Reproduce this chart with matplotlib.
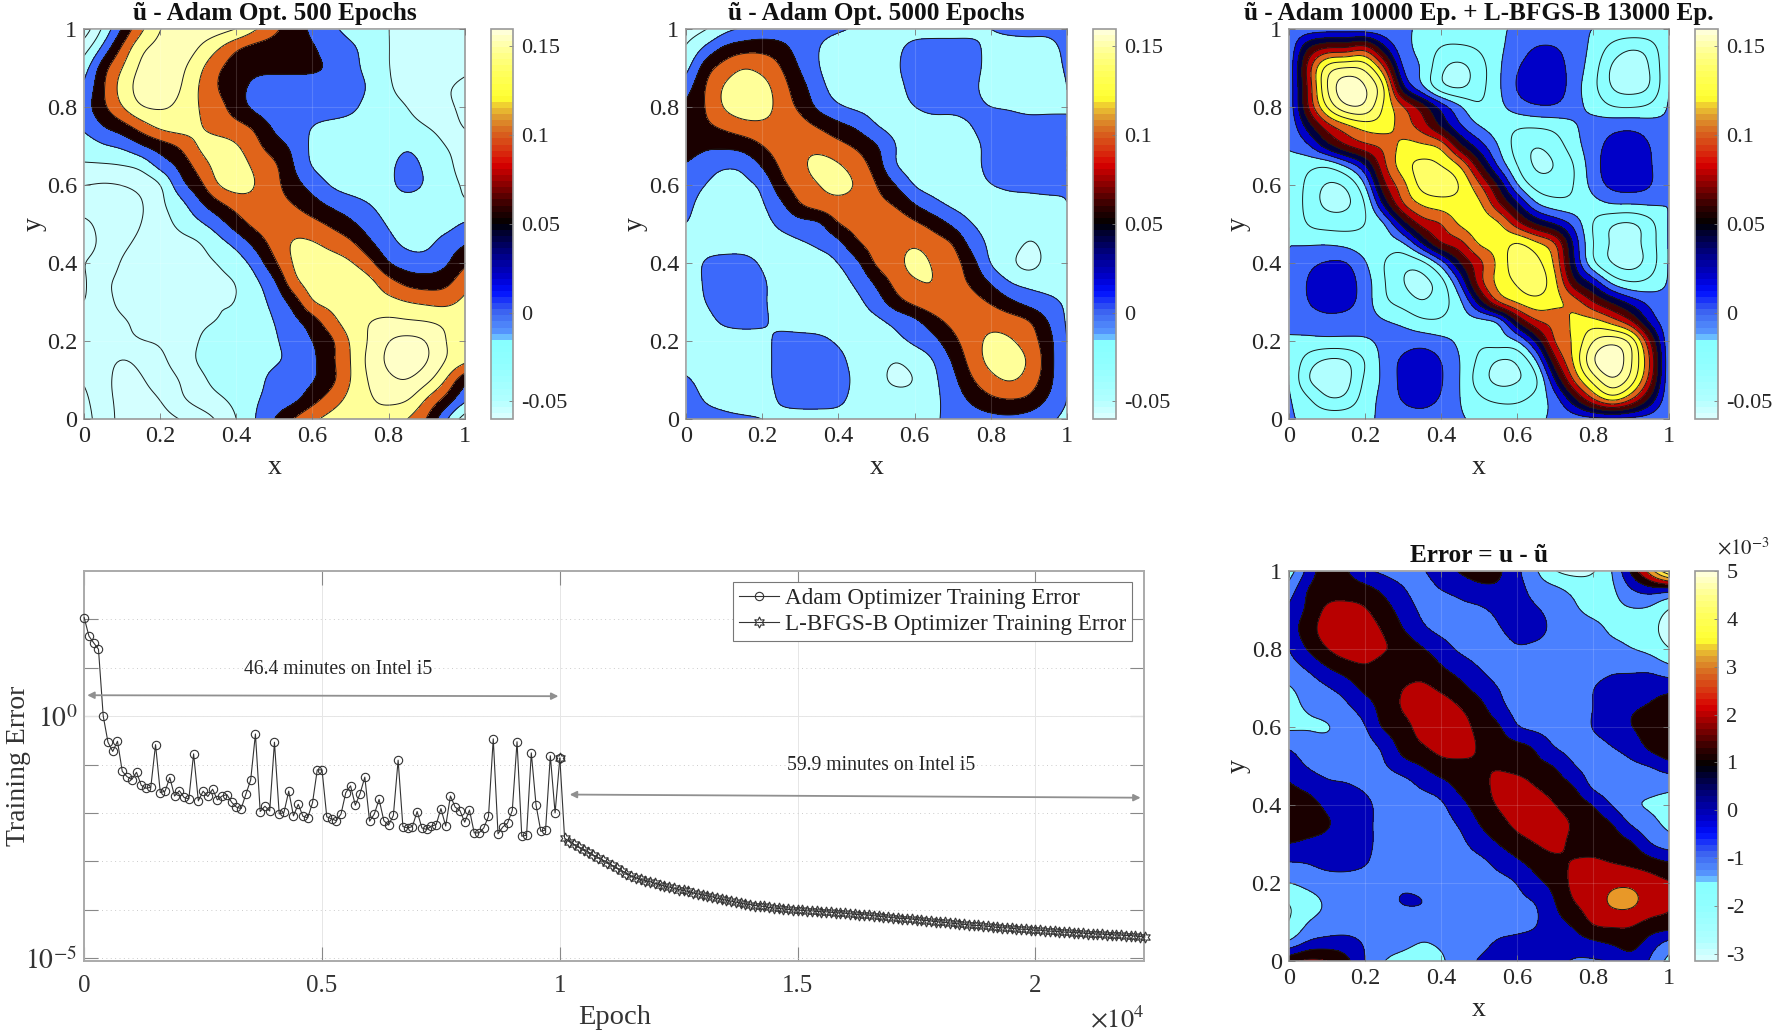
import numpy as np
import matplotlib
matplotlib.use("Agg")
import matplotlib.pyplot as plt
from matplotlib.colors import LinearSegmentedColormap, Normalize
from matplotlib.cm import ScalarMappable

plt.rcParams['font.family'] = ['Liberation Serif', 'DejaVu Serif']
plt.rcParams['mathtext.fontset'] = 'stix'

W, H = 1772, 1035

# fields on a 21x21 grid, top row is y=1, left column x=0
# unit is a tenth of a contour band, so a contour sits on every multiple of 10
u500 = [
    [5,22,41,58,70,74,75,74,70,61,52,45,38,32,27,24,20,18,17,16,15],
    [16,33,52,68,73,76,70,61,51,46,45,44,41,36,32,26,20,18,17,16,15],
    [26,46,60,72,75,73,63,52,45,42,42,42,41,39,33,27,20,18,17,15,12],
    [32,49,64,74,76,71,60,50,43,38,36,36,37,37,34,29,21,17,14,11,8],
    [36,48,60,70,71,68,60,54,45,37,33,33,33,34,32,27,23,20,15,12,8],
    [32,40,46,55,63,65,61,56,53,48,38,33,30,28,27,26,24,23,20,16,9],
    [25,29,32,39,45,51,61,64,61,53,44,38,28,26,25,25,26,29,25,20,16],
    [19,19,20,23,34,42,54,63,64,58,52,40,29,26,25,26,28,33,28,23,16],
    [10,9,10,13,19,36,46,60,64,60,53,44,36,29,26,26,28,33,29,24,19],
    [5,5,6,9,18,26,37,47,54,57,54,50,44,38,34,30,27,26,25,23,21],
    [-2,3,6,10,16,22,28,35,45,53,56,56,53,48,42,35,29,26,25,26,31],
    [-3,2,8,12,15,17,19,26,33,43,54,61,61,57,52,42,33,28,28,34,39],
    [0,4,11,14,16,17,18,20,25,34,48,61,64,64,61,53,40,35,34,38,48],
    [-1,8,12,15,17,18,19,19,20,28,38,57,64,66,66,63,54,47,45,47,56],
    [0,7,12,15,17,19,19,20,20,26,33,44,60,63,64,64,63,60,58,57,62],
    [5,7,9,12,15,17,19,20,22,26,30,37,45,57,65,70,72,71,70,68,65],
    [5,7,8,10,11,15,20,23,26,28,29,34,40,48,61,71,80,83,80,70,64],
    [6,4,-1,3,8,14,21,24,26,28,29,32,38,48,60,73,82,85,81,70,63],
    [9,3,-3,-1,5,10,17,23,26,28,32,35,39,47,60,71,78,80,73,60,43],
    [12,3,-2,-3,0,8,14,18,23,29,33,37,46,55,63,69,72,71,59,47,33],
    [14,4,-2,-4,-3,0,5,11,20,30,40,50,58,63,66,68,66,60,50,32,16],
]
u5000 = [
    [16,19,27,31,33,33,32,32,31,29,27,26,26,26,26,27,30,32,32,32,33],
    [21,32,42,46,47,44,35,30,26,25,25,28,33,34,34,33,27,26,27,27,32],
    [27,45,54,60,57,50,39,30,25,24,25,29,33,34,34,33,27,25,25,26,31],
    [36,50,61,65,64,54,44,33,26,24,25,28,32,34,34,32,26,24,24,25,30],
    [42,50,61,66,66,55,48,37,31,28,27,28,30,32,32,32,30,29,27,28,30],
    [44,48,52,56,57,56,54,49,43,38,30,27,27,27,27,30,33,34,34,33,30],
    [45,42,42,44,50,55,58,57,53,48,41,30,26,25,26,28,32,34,34,33,30],
    [39,34,31,32,41,52,58,63,61,55,45,30,26,25,26,28,32,34,34,33,30],
    [34,30,27,28,32,47,55,60,63,59,50,40,29,26,25,27,30,32,32,32,30],
    [32,27,25,25,29,38,50,55,57,56,53,49,40,33,28,26,25,26,27,28,30],
    [30,26,25,24,27,32,36,38,50,54,56,56,52,46,38,30,27,25,24,25,28],
    [25,26,26,26,26,27,29,32,37,49,54,57,59,55,50,36,28,25,19,23,27],
    [25,31,33,33,29,26,25,26,30,38,52,57,63,59,54,44,29,22,16,23,27],
    [25,31,34,34,31,27,25,26,27,32,42,53,59,60,55,48,39,30,27,27,28],
    [26,30,33,34,31,27,26,26,26,28,35,46,53,57,58,54,49,42,36,32,29],
    [26,28,31,32,31,28,26,26,26,27,28,32,37,46,53,56,57,55,51,40,29],
    [26,27,27,27,28,32,33,32,29,27,27,28,32,37,47,56,62,61,55,44,30],
    [27,26,26,26,28,32,34,34,32,27,24,20,24,30,41,54,63,65,59,45,30],
    [31,27,26,26,28,32,35,35,33,28,23,18,20,28,37,49,57,61,56,44,30],
    [35,29,27,26,27,31,33,33,32,27,25,24,24,28,34,42,48,50,48,39,30],
    [37,34,32,31,30,28,27,27,27,26,25,25,26,29,32,35,37,38,36,32,28],
]
uFinal = [
    [33,34,35,35,34,33,31,29,27,27,28,29,31,32,32,31,30,28,28,28,30],
    [32,60,71,71,77,53,33,28,19,18,21,28,34,41,41,34,28,16,10,14,30],
    [33,74,105,111,108,82,38,30,12,7,15,28,39,46,45,35,25,8,6,10,30],
    [33,71,110,127,121,102,51,31,12,8,16,28,41,47,47,34,23,9,6,10,30],
    [33,70,101,119,119,98,82,66,47,32,21,27,35,39,39,33,27,20,19,22,31],
    [32,54,75,86,94,95,85,75,58,41,30,25,21,21,23,29,34,37,38,35,31],
    [31,38,56,70,78,82,93,92,88,62,45,30,16,10,15,26,36,43,45,40,31],
    [27,23,21,31,48,78,96,103,100,90,64,38,20,8,10,20,36,45,47,41,31],
    [30,17,9,11,29,68,86,104,106,100,82,59,30,16,15,20,34,43,45,41,31],
    [30,16,8,8,19,52,80,91,95,96,93,72,53,31,24,23,26,30,30,31,30],
    [30,19,16,16,20,28,54,74,79,92,95,93,74,59,49,37,19,10,8,16,31],
    [30,29,29,27,24,25,28,50,71,76,92,94,102,93,82,47,20,9,7,15,31],
    [30,37,41,41,31,20,13,16,34,60,76,92,106,103,88,50,21,9,6,14,31],
    [30,41,46,45,35,21,10,7,15,40,76,93,101,106,93,62,47,27,20,23,31],
    [30,40,45,44,35,22,16,10,16,27,54,82,92,97,93,86,70,58,46,37,32],
    [32,34,36,35,33,31,28,22,21,26,26,29,60,79,83,92,94,85,71,46,33],
    [29,28,28,28,29,32,35,36,33,28,22,26,29,52,82,91,110,117,108,70,32],
    [30,15,8,9,20,33,42,46,40,30,18,9,11,29,68,92,120,130,111,80,32],
    [30,10,5,6,22,32,43,48,41,30,15,7,9,17,50,82,104,119,106,75,32],
    [31,22,11,12,25,33,41,44,39,30,22,18,18,24,35,57,80,95,81,57,32],
    [31,28,27,27,28,32,35,36,34,31,28,27,27,28,32,35,37,38,37,35,31],
]
uError = [
    [15,33,46,41,32,28,26,29,35,41,44,42,32,21,10,7,9,20,42,65,90],
    [25,41,46,46,44,38,31,26,30,33,37,38,34,26,23,18,16,18,29,34,32],
    [32,42,52,53,51,44,36,28,24,27,28,32,34,31,26,21,18,18,19,18,9],
    [35,46,54,56,54,49,40,32,27,25,26,29,34,34,27,24,22,19,18,13,6],
    [30,41,50,55,54,51,47,41,35,28,26,25,29,27,25,24,22,22,20,17,10],
    [26,31,39,45,49,46,45,46,41,36,30,26,24,23,23,23,25,28,28,28,23],
    [19,24,29,34,43,44,50,52,48,43,36,30,26,25,24,24,30,34,35,36,37],
    [18,21,24,28,35,44,51,56,55,50,44,33,27,25,24,24,30,36,39,41,46],
    [18,19,19,23,29,42,46,54,57,54,47,42,30,27,25,24,31,36,40,44,49],
    [29,25,23,24,26,32,44,49,54,55,49,44,43,39,29,26,26,30,34,43,49],
    [35,29,26,25,24,29,36,40,46,47,49,49,45,42,40,30,26,26,28,30,36],
    [41,37,32,31,28,24,25,32,36,43,46,53,56,49,44,40,27,24,24,23,22],
    [44,44,38,36,33,26,24,24,28,37,44,51,57,57,50,45,40,29,21,19,18],
    [46,44,41,37,33,26,24,24,26,31,40,45,53,56,54,49,45,41,29,23,18],
    [40,38,37,35,33,26,24,23,24,27,35,40,45,50,53,47,46,44,42,30,25],
    [29,30,33,33,31,25,23,22,23,24,26,33,38,43,47,51,52,50,48,45,41],
    [20,23,25,26,25,26,28,25,22,23,24,26,30,38,43,53,55,58,58,54,51],
    [10,16,21,24,24,27,31,31,26,24,24,25,28,30,40,50,55,62,63,55,50],
    [10,20,23,25,25,25,24,23,23,24,25,25,27,29,37,42,52,53,52,48,48],
    [20,30,33,33,29,25,22,20,21,23,26,31,32,33,34,36,39,42,45,36,28],
    [47,52,50,43,30,20,18,18,19,24,31,34,35,35,33,29,29,31,37,29,17],
]

# training error, log10 of the value, one point per 100 epochs
adamLog = [2.03,1.65,1.51,1.38,0,-.54,-.73,-.52,-1.14,-1.25,-1.31,-1.16,-1.43,-1.49,-1.47,-.59,-1.58,-1.55,-1.27,-1.65,
    -1.54,-1.68,-1.71,-.78,-1.75,-1.55,-1.66,-1.51,-1.73,-1.65,-1.62,-1.78,-1.88,-1.91,-1.61,-1.32,-.37,-1.97,-1.86,-1.96,
    -.54,-2.02,-1.99,-1.55,-2.06,-1.82,-2.07,-2.10,-1.79,-1.11,-1.11,-2.08,-2.12,-2.16,-2.02,-1.58,-1.44,-1.84,-1.60,-1.26,
    -2.17,-2.02,-1.72,-2.16,-2.25,-2.05,-.91,-2.28,-2.31,-2.28,-1.97,-2.31,-2.34,-2.27,-2.24,-1.91,-2.27,-1.65,-1.88,-1.95,
    -2.19,-1.94,-2.41,-2.41,-2.31,-2.07,-.47,-2.43,-2.29,-2.21,-1.95,-.53,-2.48,-2.46,-.76,-1.84,-2.38,-2.35,-.82,-2.0,-.87]
lbfgsLog = [-.87,-2.52,-2.59,-2.65,-2.71,-2.76,-2.81,-2.87,-2.92,-2.97,-3.03,-3.08,-3.14,-3.19,-3.25,-3.30,-3.34,-3.37,-3.40,-3.42,
    -3.45,-3.48,-3.51,-3.53,-3.55,-3.58,-3.60,-3.62,-3.65,-3.67,-3.69,-3.71,-3.73,-3.76,-3.78,-3.80,-3.82,-3.84,-3.86,-3.88,
    -3.89,-3.91,-3.92,-3.93,-3.95,-3.96,-3.97,-3.98,-3.99,-4.00,-4.00,-4.01,-4.02,-4.02,-4.03,-4.04,-4.04,-4.05,-4.06,-4.06,
    -4.07,-4.08,-4.09,-4.10,-4.10,-4.11,-4.12,-4.13,-4.14,-4.15,-4.16,-4.17,-4.18,-4.18,-4.19,-4.20,-4.21,-4.22,-4.23,-4.24,
    -4.25,-4.26,-4.27,-4.28,-4.29,-4.30,-4.31,-4.32,-4.32,-4.33,-4.34,-4.35,-4.36,-4.37,-4.37,-4.38,-4.39,-4.40,-4.40,-4.41,
    -4.42,-4.42,-4.43,-4.44,-4.44,-4.45,-4.46,-4.46,-4.47,-4.47,-4.48,-4.49,-4.49,-4.50,-4.50,-4.51,-4.51,-4.52,-4.52,-4.53,
    -4.53,-4.54,-4.55,-4.56]

titles = ['ũ - Adam Opt. 500 Epochs', 'ũ - Adam Opt. 5000 Epochs',
          'ũ - Adam 10000 Ep. + L-BFGS-B 13000 Ep.', 'Error = u - ũ']
legendLabels = ['Adam Optimizer Training Error', 'L-BFGS-B Optimizer Training Error']

# colorbar shared by every contour panel, positions read as values of the -0.06..0.16 bar
barValues = [-0.06, -0.05, -0.03, -0.018, -0.013, 0, 0.011, 0.019, 0.033, 0.047, 0.05, 0.06, 0.071, 0.084, 0.092,
             0.103, 0.112, 0.118, 0.122, 0.137, 0.148, 0.16]
barColors = ['#d8ffff', '#b0ffff', '#90ffff', '#88ffff', '#5a9cff', '#3a60f0', '#0010ff', '#0000d0', '#000080',
             '#000020', '#000000', '#300000', '#800000', '#d80000', '#d83010', '#d86820', '#e0a030', '#f0d030',
             '#ffff30', '#ffff60', '#ffff90', '#ffffd8']
stops = [((v + 0.06) / 0.22, c) for v, c in zip(barValues, barColors)]
jetHot = LinearSegmentedColormap.from_list('jetHot', stops, N=64)

fill500 = ['#d4ffff', '#ccffff', '#ccffff', '#aeffff', '#3c69fb', '#1a0000', '#e0641a', '#ffff99', '#ffffb8', '#ffffc8']
fill5000 = ['#ccffff', '#b0ffff', '#3c69fb', '#1a0000', '#e0641a', '#ffff99']
fillFinal = ['#b0ffff', '#8cffff', '#8cffff', '#3c69fb', '#0000c8', '#000040', '#4a0000', '#b80000', '#e0641a',
             '#ffff30', '#ffff66', '#ffff99', '#ffffc8']
fillError = ['#c8ffff', '#8cffff', '#4a80ff', '#0000b8', '#1a0000', '#b80000', '#e89828', '#ffe040', '#ffff80']
levels500 = [0, 10, 20, 30, 40, 50, 60, 70, 80]
levels5000 = [20, 30, 40, 50, 60]
levelsFinal = [10, 20, 30, 40, 50, 60, 70, 80, 90, 100, 110, 120]
levelsError = [10, 20, 30, 40, 50, 60, 70, 80]


def pxAxes(x0, x1, y0, y1):
    # pixel box of the reference -> figure axes
    return fig.add_axes([x0 / W, 1 - y1 / H, (x1 - x0) / W, (y1 - y0) / H])


def smooth1d(a, k=8):
    # catmull-rom through the read values, then a small triangle filter, so the contours do not look faceted
    n = len(a)
    t = np.linspace(0, n - 1, (n - 1) * k + 1)
    i = np.minimum(t.astype(int), n - 2)
    f = t - i
    p0 = a[np.maximum(i - 1, 0)]
    p1 = a[i]
    p2 = a[i + 1]
    p3 = a[np.minimum(i + 2, n - 1)]
    c = 0.5 * (2 * p1 + (p2 - p0) * f + (2 * p0 - 5 * p1 + 4 * p2 - p3) * f ** 2 + (3 * p1 - p0 - 3 * p2 + p3) * f ** 3)
    tri = np.convolve(np.ones(k // 2 + 1), np.ones(k // 2 + 1))
    tri = tri / tri.sum()
    pad = len(tri) // 2
    padded = np.concatenate([2 * c[0] - c[pad:0:-1], c, 2 * c[-1] - c[-2:-pad - 2:-1]])
    return np.convolve(padded, tri, mode='valid')


def contourPanel(box, cbox, field, levels, fills, title, vmin, vmax, cticks, clabels):
    ax = pxAxes(*box)
    z = np.array(field, dtype=float)[::-1]
    z = np.apply_along_axis(smooth1d, 0, z)
    z = np.apply_along_axis(smooth1d, 1, z)
    x = np.linspace(0, 1, z.shape[1])
    y = np.linspace(0, 1, z.shape[0])
    ax.contourf(x, y, z, levels=[-1000] + levels + [1000], colors=fills)
    ax.contour(x, y, z, levels=levels, colors='#1a1a1a', linewidths=0.7)
    ax.set_xlim(0, 1)
    ax.set_ylim(0, 1)
    ticks = [0, 0.2, 0.4, 0.6, 0.8, 1]
    ax.set_xticks(ticks, ['0', '0.2', '0.4', '0.6', '0.8', '1'])
    ax.set_yticks(ticks, ['0', '0.2', '0.4', '0.6', '0.8', '1'])
    ax.tick_params(direction='in', length=4, width=0.6, color='#777777', labelsize=17.5, labelcolor='#262626',
                   top=True, right=True, pad=5)
    ax.grid(True, color='white', alpha=0.15, linewidth=0.8)
    ax.set_axisbelow(False)
    for s in ax.spines.values():
        s.set_color('#999999')
        s.set_linewidth(1.2)
    ax.set_xlabel('x', fontsize=20, color='#262626', labelpad=6)
    ax.set_ylabel('y', fontsize=20, color='#262626')
    ax.yaxis.set_label_coords(-0.10, 0.5)
    ax.set_title(title, fontsize=18.2, fontweight='bold', color='#111111', pad=6)

    cax = pxAxes(*cbox)
    sm = ScalarMappable(Normalize(vmin, vmax), jetHot)
    cb = fig.colorbar(sm, cax=cax)
    cb.set_ticks(cticks, labels=clabels)
    cb.ax.tick_params(direction='in', length=3, width=0.6, color='#777777', labelsize=16, labelcolor='#262626', pad=6)
    cb.outline.set_edgecolor('#999999')
    cb.outline.set_linewidth(1.2)
    return ax, cax


fig = plt.figure(figsize=(W / 100, H / 100), dpi=100)

cticksU = [-0.05, 0, 0.05, 0.1, 0.15]
clabelsU = ['-0.05', '0', '0.05', '0.1', '0.15']
contourPanel((84.2, 464.6, 28.7, 419), (490.6, 512.8, 28.7, 419), u500, levels500, fill500, titles[0],
             -0.06, 0.16, cticksU, clabelsU)
contourPanel((686, 1067, 28.7, 419), (1093, 1115.7, 28.7, 419), u5000, levels5000, fill5000, titles[1],
             -0.06, 0.16, cticksU, clabelsU)
contourPanel((1288.7, 1669.3, 28.7, 419), (1695, 1717.9, 28.7, 419), uFinal, levelsFinal, fillFinal, titles[2],
             -0.06, 0.16, cticksU, clabelsU)
axE, caxE = contourPanel((1288.7, 1669.3, 570.7, 961), (1695, 1717.9, 570.7, 961), uError, levelsError, fillError,
                         titles[3], -3.14, 5, [-3, -2, -1, 0, 1, 2, 3, 4, 5],
                         ['-3', '-2', '-1', '0', '1', '2', '3', '4', '5'])
caxE.text(0.95, 1.03, r'$\times10^{\mathrm{-}3}$', transform=caxE.transAxes, fontsize=15, color='#262626',
          ha='left', va='bottom')

# training error panel
ax = pxAxes(84.2, 1144.4, 570.7, 961)
adamEpochs = np.arange(len(adamLog)) * 100
lbfgsEpochs = 10000 + np.arange(len(lbfgsLog)) * 100
ax.semilogy(adamEpochs, 10.0 ** np.array(adamLog), color='#333333', lw=0.8, marker='o', ms=6, mfc='none', mew=0.8,
            clip_on=False, zorder=3, label=legendLabels[0])
ax.semilogy(lbfgsEpochs, 10.0 ** np.array(lbfgsLog), color='#333333', lw=0.8, marker=(6, 1, 0), ms=8, mfc='none',
            mew=0.8, clip_on=False, zorder=3, label=legendLabels[1])
ax.set_xlim(0, 22290)
ax.set_ylim(10.0 ** -5.055, 1e3)
ax.set_xticks([0, 5000, 10000, 15000, 20000], ['0', '0.5', '1', '1.5', '2'])
ax.set_yticks([10.0 ** e for e in range(-5, 3)],
              [r'$10^{\mathrm{-}5}$', '', '', '', '', r'$10^{0}$', '', ''])
ax.minorticks_off()
ax.tick_params(direction='in', length=10, width=0.8, color='#888888', labelsize=18, labelcolor='#333333',
               top=True, right=True)
ax.tick_params(axis='x', pad=10)
ax.tick_params(axis='y', labelsize=20, pad=5)
ax.xaxis.grid(True, color='#e6e6e6', lw=0.7)
ax.yaxis.grid(True, color='#cccccc', lw=0.7, ls=(0, (1, 3.5)))
ax.axhline(1, color='#e6e6e6', lw=0.7, zorder=1)
ax.set_axisbelow(True)
for s in ax.spines.values():
    s.set_color('#aaaaaa')
    s.set_linewidth(1.4)
ax.set_xlabel('Epoch', fontsize=20.5, color='#333333', labelpad=6)
ax.set_ylabel('Training Error', fontsize=20, color='#333333')
ax.yaxis.set_label_coords(-0.05, 0.5)
ax.text(1.0, -0.115, r'$\times10^{4}$', transform=ax.transAxes, fontsize=19, color='#333333', ha='right', va='top')

arrowStyle = dict(arrowstyle='<|-|>', color='#909090', lw=1.3, shrinkA=0, shrinkB=0, mutation_scale=10)
ax.annotate('', xy=(64, 10 ** 0.43), xytext=(9970, 10 ** 0.41), arrowprops=arrowStyle)
ax.annotate('', xy=(10208, 10 ** -1.62), xytext=(22210, 10 ** -1.685), arrowprops=arrowStyle)
ax.text(5330, 10 ** 0.96, '46.4 minutes on Intel i5', fontsize=14.2, color='#262626', ha='center', va='center')
ax.text(16745, 10 ** -1.01, '59.9 minutes on Intel i5', fontsize=14.2, color='#262626', ha='center', va='center')

leg = ax.legend(loc='upper right', bbox_to_anchor=(0.9885, 0.97), fontsize=16.7, frameon=True, fancybox=False,
                framealpha=1, edgecolor='#777777', borderaxespad=0, labelspacing=0.2, handlelength=1.75,
                handletextpad=0.25, borderpad=0.25)
leg.get_frame().set_linewidth(0.8)
for t in leg.get_texts():
    t.set_color('#262626')

fig.savefig('out.png', dpi=100)
